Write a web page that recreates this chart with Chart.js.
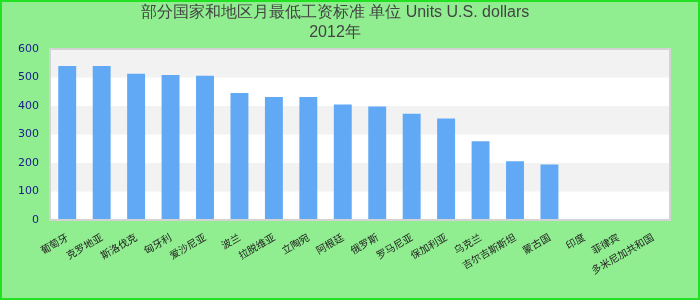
<!DOCTYPE html>
<html>
<head>
<meta charset="utf-8">
<script src="https://cdn.jsdelivr.net/npm/chart.js@4"></script>
<style>
  body { margin: 0; }
  #wrap { width: 700px; height: 300px; }
</style>
</head>
<body>
<div id="wrap"><canvas id="chart" width="700" height="300"></canvas></div>
<script>
// chart data
const titleLines = ["部分国家和地区月最低工资标准 单位 Units U.S. dollars", "2012年"];
const categories = [
  "葡萄牙", "克罗地亚", "斯洛伐克", "匈牙利", "爱沙尼亚", "波兰",
  "拉脱维亚", "立陶宛", "阿根廷", "俄罗斯", "罗马尼亚", "保加利亚",
  "乌克兰", "吉尔吉斯斯坦", "蒙古国", "印度", "菲律宾", "多米尼加共和国"
];
const wages = [540, 540, 513, 509, 506, 446, 432, 432, 405, 398, 373, 356, 276, 206, 195, 0, 0, 0];
const yTicks = [0, 100, 200, 300, 400, 500, 600];

// background, stripes and plot border
const backdrop = {
  id: "backdrop",
  beforeDraw(chart) {
    const ctx = chart.ctx;
    const a = chart.chartArea;
    const y = chart.scales.y;
    ctx.save();
    ctx.fillStyle = "#90ee90";
    ctx.fillRect(0, 0, chart.width, chart.height);
    ctx.strokeStyle = "#22e022";
    ctx.lineWidth = 2;
    ctx.strokeRect(1, 1, chart.width - 2, chart.height - 2);
    ctx.fillStyle = "#ffffff";
    ctx.fillRect(a.left, a.top, a.right - a.left, a.bottom - a.top);
    ctx.fillStyle = "#f2f2f2";
    for (let i = 1; i < yTicks.length; i += 2) {
      const top = y.getPixelForValue(yTicks[i + 1] !== undefined ? yTicks[i + 1] : yTicks[i]);
      const bot = y.getPixelForValue(yTicks[i]);
      if (top < bot) ctx.fillRect(a.left, top, a.right - a.left, bot - top);
    }
    ctx.restore();
  },
  afterDraw(chart) {
    const ctx = chart.ctx;
    const a = chart.chartArea;
    ctx.save();
    ctx.strokeStyle = "#d3d3d3";
    ctx.lineWidth = 2;
    ctx.strokeRect(a.left, a.top, a.right - a.left, a.bottom - a.top);
    ctx.restore();
  }
};

new Chart(document.getElementById("chart"), {
  type: "bar",
  data: {
    labels: categories,
    datasets: [{
      data: wages,
      backgroundColor: "#61a8f5",
      borderWidth: 0,
      barPercentage: 0.52,
      categoryPercentage: 1
    }]
  },
  options: {
    responsive: false,
    animation: false,
    layout: { padding: { left: 0, right: 30, top: 0, bottom: 0 } },
    plugins: {
      legend: { display: false },
      tooltip: { enabled: false },
      title: {
        display: true,
        text: titleLines,
        color: "#444444",
        font: { family: "Liberation Sans", size: 16, weight: "normal", lineHeight: 1.25 },
        padding: { top: 3, bottom: 6 }
      }
    },
    scales: {
      x: {
        grid: { display: false },
        border: { display: false },
        ticks: {
          autoSkip: false,
          minRotation: 30,
          maxRotation: 30,
          color: "#222222",
          font: { family: "Noto Sans CJK SC", size: 10 }
        },
        afterFit(scale) { scale.height = 80; }
      },
      y: {
        min: 0,
        max: 600,
        grid: { display: false },
        border: { display: false },
        ticks: {
          stepSize: 100,
          padding: 3,
          color: "#1a1a8a",
          font: { family: "DejaVu Sans", size: 11 }
        },
        afterFit(scale) { scale.width = 50; }
      }
    }
  },
  plugins: [backdrop]
});
</script>
</body>
</html>
